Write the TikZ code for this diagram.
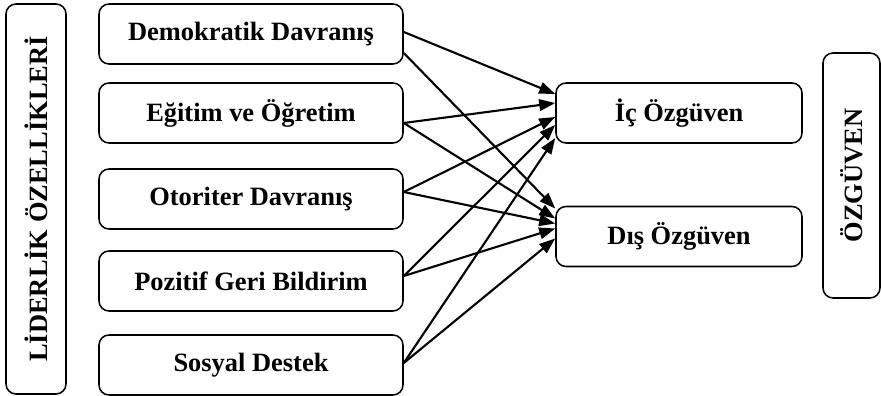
\documentclass[tikz,border=0pt]{standalone}
\usepackage{fontspec}
\setmainfont{Liberation Serif}
\usetikzlibrary{arrows.meta,calc}
\tikzset{>={Triangle[length=4mm,width=2.9mm]}}
\tikzset{
  kutu/.style={draw,line width=1.1pt,rounded corners=2.5mm,minimum height=15mm,
    inner sep=0pt,font=\fontsize{18.8}{22}\selectfont\bfseries},
  solkutu/.style={kutu,minimum width=76mm},
  sagkutu/.style={kutu,minimum width=61.5mm},
  ok/.style={line width=1.5pt,black,->}
}

\begin{document}
\begin{tikzpicture}[x=0.25mm,y=-0.25mm]
  \useasboundingbox (0,0) rectangle (881,396);
  % ana basliklar
  \node[kutu,rotate=90,minimum width=97.5mm] (lider) at (36,199) {LİDERLİK ÖZELLİKLERİ};
  \node[kutu,rotate=90,minimum width=61.25mm,minimum height=14.25mm] (ozguven) at (851.5,175.5) {ÖZGÜVEN};
  % liderlik ozellikleri
  \node[solkutu] (demo) at (251,34)  {Demokratik Davranış};
  \node[solkutu] (egit) at (251,113) {Eğitim ve Öğretim};
  \node[solkutu] (otor) at (251,199) {Otoriter Davranış};
  \node[solkutu] (pozi) at (251,281) {Pozitif Geri Bildirim};
  \node[solkutu] (sosy) at (251,365) {Sosyal Destek};
  % ozguven boyutlari
  \node[sagkutu] (ic)  at (679,113)   {İç Özgüven};
  \node[sagkutu] (dis) at (679,236.5) {Dış Özgüven};
  % oklar
  \draw[ok] ($(demo.east)+(0,-2)$)  -- ($(ic.west)+(0,-19)$);
  \draw[ok] ($(demo.east)+(0,19)$)  -- ($(dis.west)+(0,-28)$);
  \draw[ok] ($(egit.east)+(0,10)$)  -- ($(ic.west)+(0,-10)$);
  \draw[ok] ($(egit.east)+(0,10)$)  -- ($(dis.west)+(0,-18)$);
  \draw[ok] ($(otor.east)+(0,-7)$)  -- ($(ic.west)+(0,4)$);
  \draw[ok] ($(otor.east)+(0,-7)$)  -- ($(dis.west)+(0,-13)$);
  \draw[ok] ($(pozi.east)+(0,-5)$)  -- ($(ic.west)+(0,12)$);
  \draw[ok] ($(pozi.east)+(0,-5)$)  -- ($(dis.west)+(0,-8)$);
  \draw[ok] ($(sosy.east)+(0,-2)$)  -- ($(ic.west)+(0,25)$);
  \draw[ok] ($(sosy.east)+(0,-2)$)  -- ($(dis.west)+(0,2)$);
\end{tikzpicture}
\end{document}
